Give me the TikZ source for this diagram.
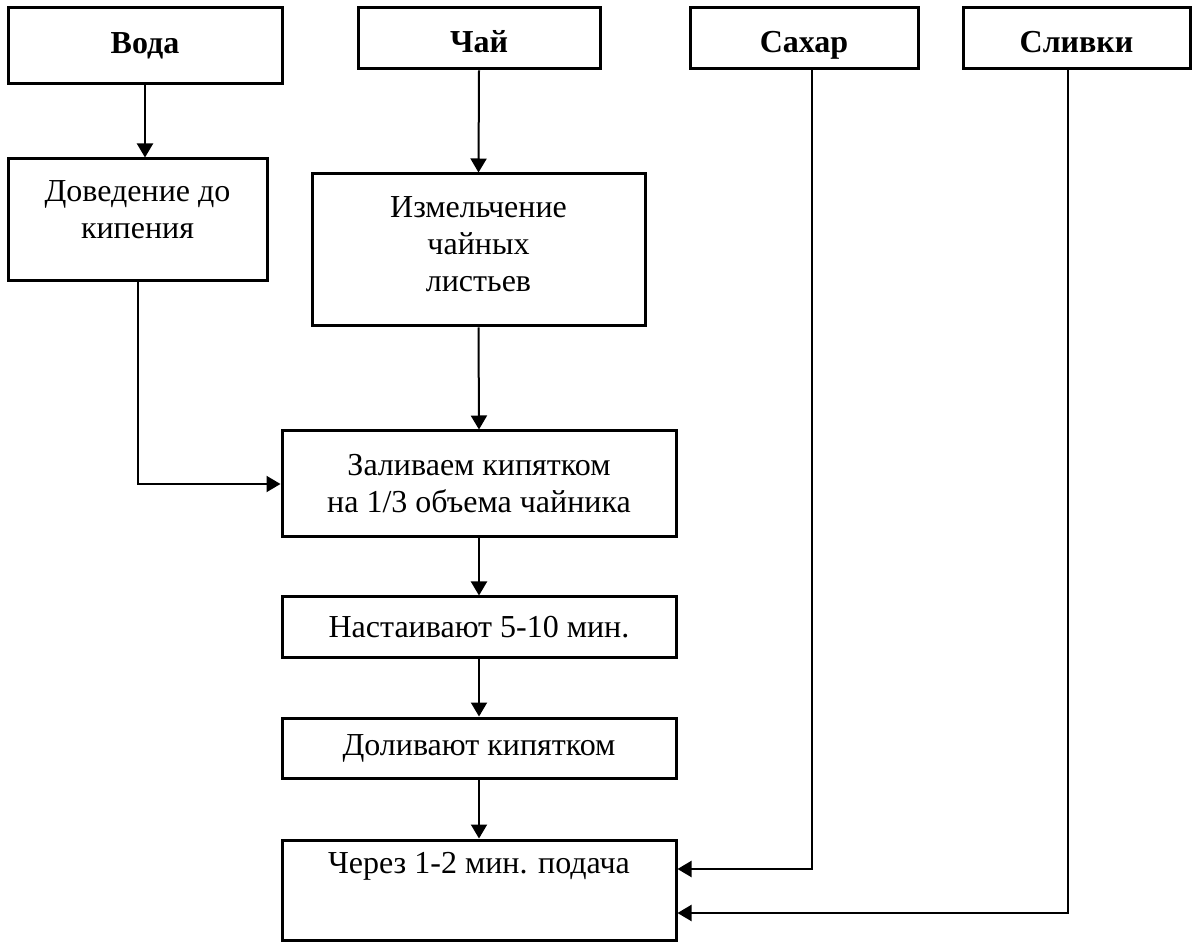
\documentclass[tikz,border=0pt]{standalone}
\usepackage{fontspec}
\setmainfont{Liberation Serif}
\usetikzlibrary{arrows.meta,calc}
\tikzset{
  box/.style={draw=black, line width=1.5pt, fill=white, inner sep=0pt, align=center,
    font=\fontsize{16}{18.5}\selectfont},
  ttl/.style={box, font=\fontsize{16}{18.5}\selectfont\bfseries, text height=11pt, text depth=3.5pt},
  ttllow/.style={ttl, text height=18pt},
  txt/.style={inner sep=0pt, align=center, font=\fontsize{16}{18.5}\selectfont},
  arr/.style={draw=black, line width=1pt, -{Triangle[length=7pt,width=8pt]}},
  ln/.style={draw=black, line width=1pt}
}
\begin{document}
\begin{tikzpicture}[x=0.5pt,y=-0.5pt]
\useasboundingbox[fill=white] (0,0) rectangle (1195,946);
% top boxes
\node[ttl, minimum width=137pt, minimum height=38pt] (voda) at (145,46) {Вода};
\node[ttllow, minimum width=121pt, minimum height=30.5pt] (chai) at (479,38.5) {Чай};
\node[ttllow, minimum width=114pt, minimum height=30.5pt] (sahar) at (804,38.5) {Сахар};
\node[ttllow, minimum width=113.5pt, minimum height=30.5pt] (slivki) at (1076.5,38.5) {Сливки};
% process boxes
\node[box, minimum width=129.5pt, minimum height=61pt] (dov) at (137.5,220) {};
\node[txt] (dovt) at ($(dov.center)+(0,-10)$) {Доведение до\\кипения};
\node[box, minimum width=166.5pt, minimum height=76pt] (izm) at (478.5,250) {};
\node[txt] (izmt) at ($(izm.center)+(0,-6)$) {Измельчение\\чайных\\листьев};
\node[box, minimum width=197pt, minimum height=53pt] (zal) at (479,484) {Заливаем кипятком\\на 1/3 объема чайника};
\node[box, minimum width=197pt, minimum height=30.5pt] (nast) at (479,627.5) {Настаивают 5-10 мин.};
\node[box, minimum width=197pt, minimum height=30pt] (dol) at (479,748) {Доливают кипятком};
\node[box, minimum width=197pt, minimum height=50pt] (cher) at (479,890) {};
\node[txt] (chert) at ($(cher.center)+(0,-24)$) {Через 1-2 мин. подача};
% connectors
\draw[arr] (voda.south) -- (voda.south |- dov.north);
\draw[arr] (chai.south) -- (izm.north);
\draw[arr] (dov.south) |- (zal.west);
\draw[arr] (izm.south) -- (zal.north);
\draw[arr] (zal.south) -- (nast.north);
\draw[arr] (nast.south) -- (dol.north);
\draw[arr] (dol.south) -- (cher.north);
\draw[arr] ([xshift=4pt]sahar.south) |- ([yshift=10.5pt]cher.east);
\draw[arr] ([xshift=-4.25pt]slivki.south) |- ([yshift=-11.5pt]cher.east);
\end{tikzpicture}
\end{document}
